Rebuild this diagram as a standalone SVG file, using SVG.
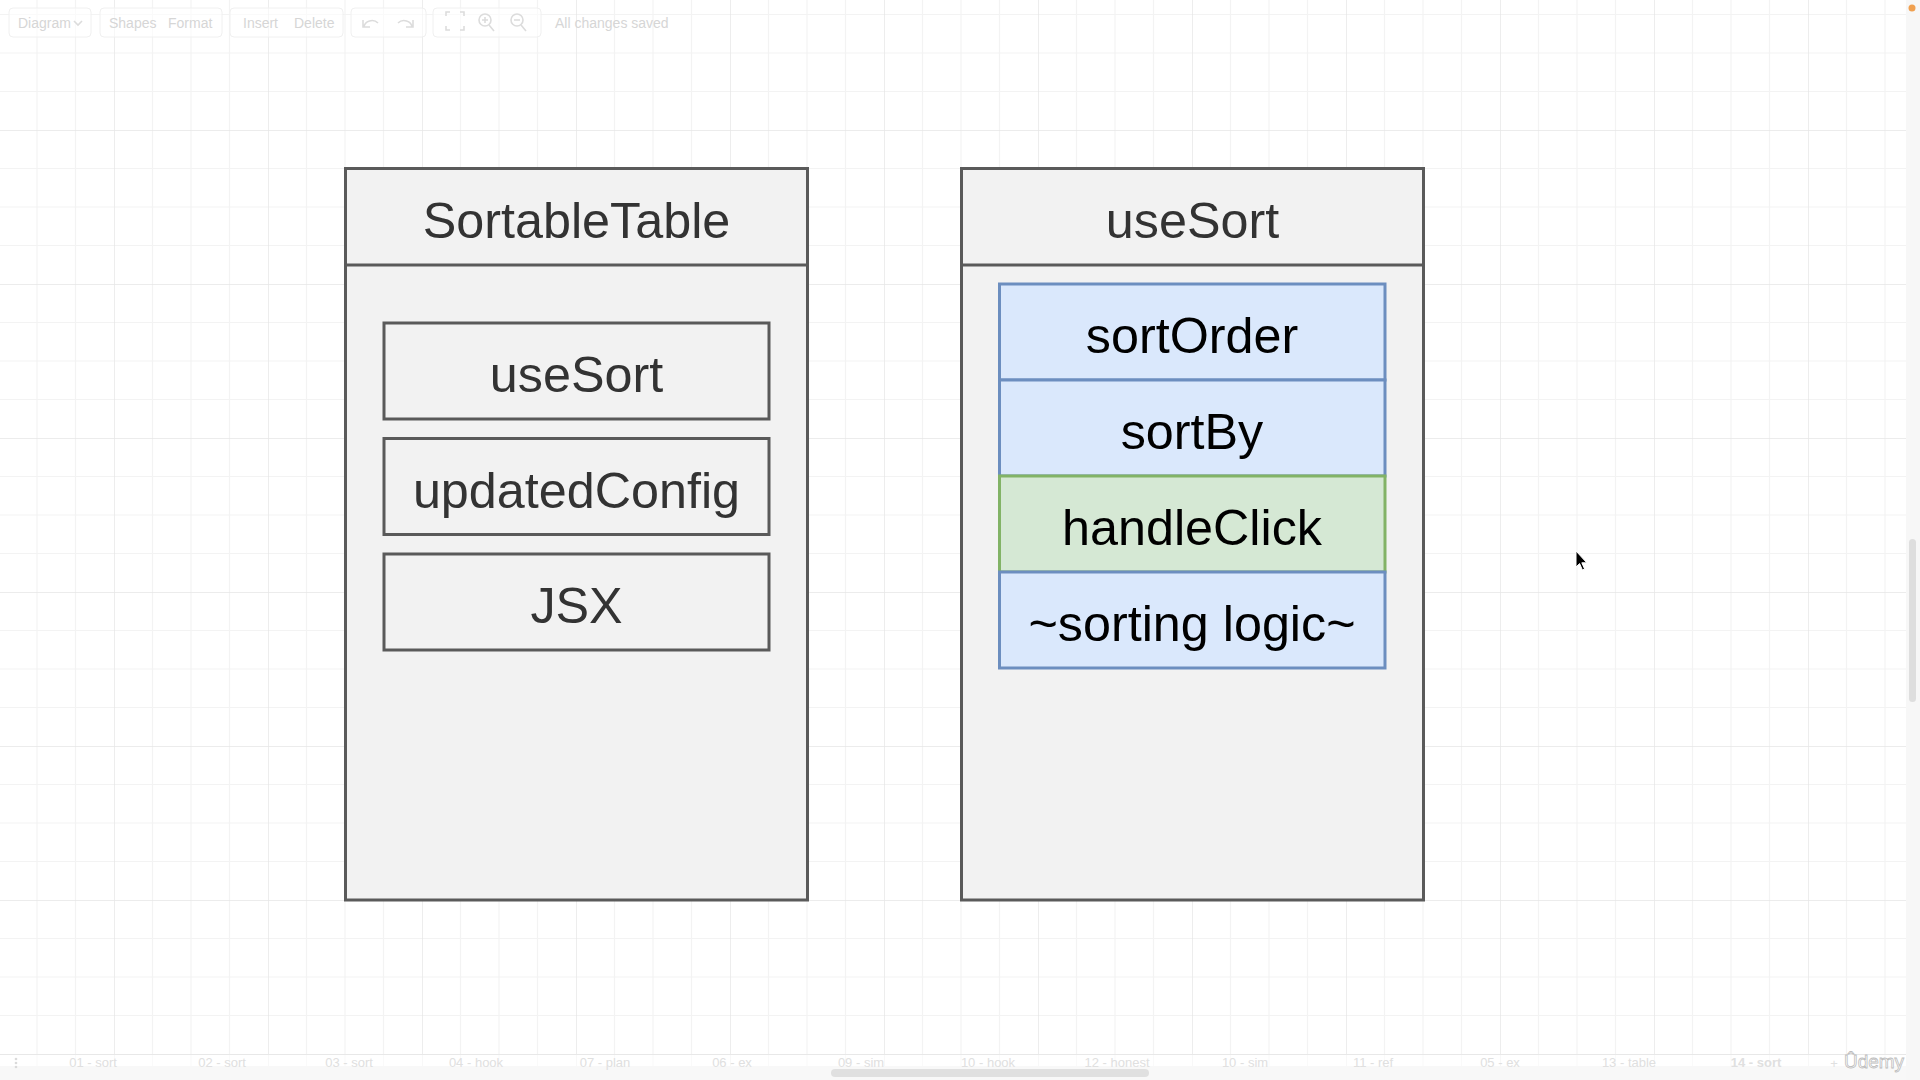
<svg xmlns="http://www.w3.org/2000/svg" width="1920" height="1080" viewBox="0 0 1920 1080">
  <defs>
    <!-- canvas grid: minor every 38.5px, major every 154px -->
    <pattern id="grid" patternUnits="userSpaceOnUse" x="114" y="130" width="154" height="154">
      <path d="M38.5 0V154M77 0V154M115.5 0V154M0 38.5H154M0 77H154M0 115.5H154" stroke="#f3f3f3" stroke-width="1.2" fill="none"/>
      <path d="M0 0V154M0 0H154" stroke="#e6e6e6" stroke-width="1.4" fill="none"/>
    </pattern>
    <style>
      .container { fill: #f2f2f2; stroke: #5a5a5a; stroke-width: 3; }
      .divider { stroke: #5a5a5a; stroke-width: 3; }
      .item { fill: #f2f2f2; stroke: #5a5a5a; stroke-width: 3; }
      .blue { fill: #dae8fc; stroke: #6c8ebf; stroke-width: 3; }
      .green { fill: #d5e8d4; stroke: #82b366; stroke-width: 3; }
      .label { font-family: "Liberation Sans", Arial, Helvetica, sans-serif; font-size: 50.3px; text-anchor: middle; fill: #333333; }
      .dark { fill: #000000; }
      .ui { font-family: "Liberation Sans", Arial, Helvetica, sans-serif; font-size: 14px; fill: #d6d6d6; }
      .tab { font-family: "Liberation Sans", Arial, Helvetica, sans-serif; font-size: 13px; fill: #e0e0e0; text-anchor: middle; }
      .btn { fill: #ffffff; fill-opacity: 0.55; stroke: #f0f0f0; stroke-width: 1; }
      .icon { fill: none; stroke: #dcdcdc; stroke-width: 1.6; }
    </style>
  </defs>

  <!-- background and grid -->
  <rect x="0" y="0" width="1920" height="1080" fill="#ffffff"/>
  <rect x="0" y="0" width="1906" height="1080" fill="url(#grid)"/>

  <!-- toolbar -->
  <g id="toolbar">
    <rect class="btn" x="9" y="8" width="82" height="29" rx="4"/>
    <text class="ui" x="18" y="28">Diagram</text>
    <path class="icon" d="M74 21l4 4 4-4" stroke-width="1.2"/>
    <rect class="btn" x="100" y="8" width="122" height="29" rx="4"/>
    <text class="ui" x="109" y="28">Shapes</text>
    <text class="ui" x="168" y="28">Format</text>
    <rect class="btn" x="230" y="8" width="113" height="29" rx="4"/>
    <text class="ui" x="243" y="28">Insert</text>
    <text class="ui" x="294" y="28" fill="#f0f0f0">Delete</text>
    <rect class="btn" x="351" y="8" width="75" height="29" rx="4"/>
    <path class="icon" d="M364 27a8 7 0 0 1 14-4M363 20v7h7"/>
    <path class="icon" d="M412 27a8 7 0 0 0-14-4M413 20v7h-7" stroke="#ececec"/>
    <rect class="btn" x="433" y="8" width="108" height="29" rx="4"/>
    <path class="icon" d="M446 16v-4h4M460 12h4v4M464 26v4h-4M450 30h-4v-4"/>
    <circle class="icon" cx="485" cy="20" r="6"/>
    <path class="icon" d="M489 25l5 6M482 20h6M485 17v6"/>
    <circle class="icon" cx="517" cy="20" r="6"/>
    <path class="icon" d="M521 25l5 6M514 20h6"/>
    <text class="ui" x="555" y="28">All changes saved</text>
  </g>

  <!-- SortableTable component -->
  <g id="sortable-table">
    <rect class="container" x="345.5" y="168.5" width="462" height="731.5"/>
    <line class="divider" x1="345.5" y1="265" x2="807.5" y2="265"/>
    <text class="label" x="576.5" y="238">SortableTable</text>
  </g>
  <g id="st-usesort">
    <rect class="item" x="384" y="323" width="385" height="96"/>
    <text class="label" x="576.5" y="392">useSort</text>
  </g>
  <g id="st-updatedconfig">
    <rect class="item" x="384" y="438.5" width="385" height="96"/>
    <text class="label" x="576.5" y="507.5">updatedConfig</text>
  </g>
  <g id="st-jsx">
    <rect class="item" x="384" y="554" width="385" height="96"/>
    <text class="label" x="576.5" y="623">JSX</text>
  </g>

  <!-- useSort hook -->
  <g id="use-sort">
    <rect class="container" x="961.5" y="168.5" width="462" height="731.5"/>
    <line class="divider" x1="961.5" y1="265" x2="1423.5" y2="265"/>
    <text class="label" x="1192.5" y="238">useSort</text>
  </g>
  <g id="us-sortorder">
    <rect class="blue" x="999.5" y="284" width="385.5" height="96"/>
    <text class="label dark" x="1192" y="353">sortOrder</text>
  </g>
  <g id="us-sortby">
    <rect class="blue" x="999.5" y="380" width="385.5" height="96"/>
    <text class="label dark" x="1192" y="449">sortBy</text>
  </g>
  <g id="us-handleclick">
    <rect class="green" x="999.5" y="476" width="385.5" height="96"/>
    <text class="label dark" x="1192" y="545">handleClick</text>
  </g>
  <g id="us-sorting-logic">
    <rect class="blue" x="999.5" y="572" width="385.5" height="96"/>
    <text class="label dark" x="1192" y="641">~sorting logic~</text>
  </g>

  <!-- no connectors in this diagram -->
  <g id="connectors"/>

  <!-- right scrollbar -->
  <rect x="1906" y="0" width="14" height="1080" fill="#f7f7f7"/>
  <rect x="1909" y="539" width="7" height="163" rx="3.5" fill="#dedede"/>
  <circle cx="1912" cy="8" r="3.5" fill="#f0a050"/>

  <!-- page tabs -->
  <g id="tabs">
    <rect x="0" y="1054" width="1906" height="26" fill="#ffffff" fill-opacity="0.6"/>
    <line x1="0" y1="1054.5" x2="1906" y2="1054.5" stroke="#e8e8e8" stroke-width="1"/>
    <rect x="0" y="1066" width="1906" height="14" fill="#f8f8f8"/>
    <rect x="831" y="1069" width="318" height="8" rx="4" fill="#e0e0e0"/>
    <circle cx="16" cy="1059" r="1.3" fill="#dadada"/>
    <circle cx="16" cy="1063" r="1.3" fill="#dadada"/>
    <circle cx="16" cy="1067" r="1.3" fill="#dadada"/>
    <text class="tab" x="93" y="1067">01 - sort</text>
    <text class="tab" x="222" y="1067">02 - sort</text>
    <text class="tab" x="349" y="1067">03 - sort</text>
    <text class="tab" x="476" y="1067">04 - hook</text>
    <text class="tab" x="605" y="1067">07 - plan</text>
    <text class="tab" x="732" y="1067">06 - ex</text>
    <text class="tab" x="861" y="1067">09 - sim</text>
    <text class="tab" x="988" y="1067">10 - hook</text>
    <text class="tab" x="1117" y="1067">12 - honest</text>
    <text class="tab" x="1245" y="1067">10 - sim</text>
    <text class="tab" x="1373" y="1067">11 - ref</text>
    <text class="tab" x="1500" y="1067">05 - ex</text>
    <text class="tab" x="1629" y="1067">13 - table</text>
    <text class="tab" x="1756" y="1067" font-weight="bold">14 - sort</text>
    <text class="tab" x="1834" y="1068" font-size="18">+</text>
  </g>

  <!-- watermark -->
  <text x="1874" y="1068" font-family="'Liberation Sans', Arial, sans-serif" font-size="19" text-anchor="middle" fill="#ffffff" stroke="#bdbdbd" stroke-width="0.8">Ûdemy</text>

  <!-- mouse pointer -->
  <path d="M1576 551v16l3.6-3.4 2.8 6.4 2.2-1-2.8-6.2h5z" fill="#000000" stroke="#ffffff" stroke-width="1"/>
</svg>
